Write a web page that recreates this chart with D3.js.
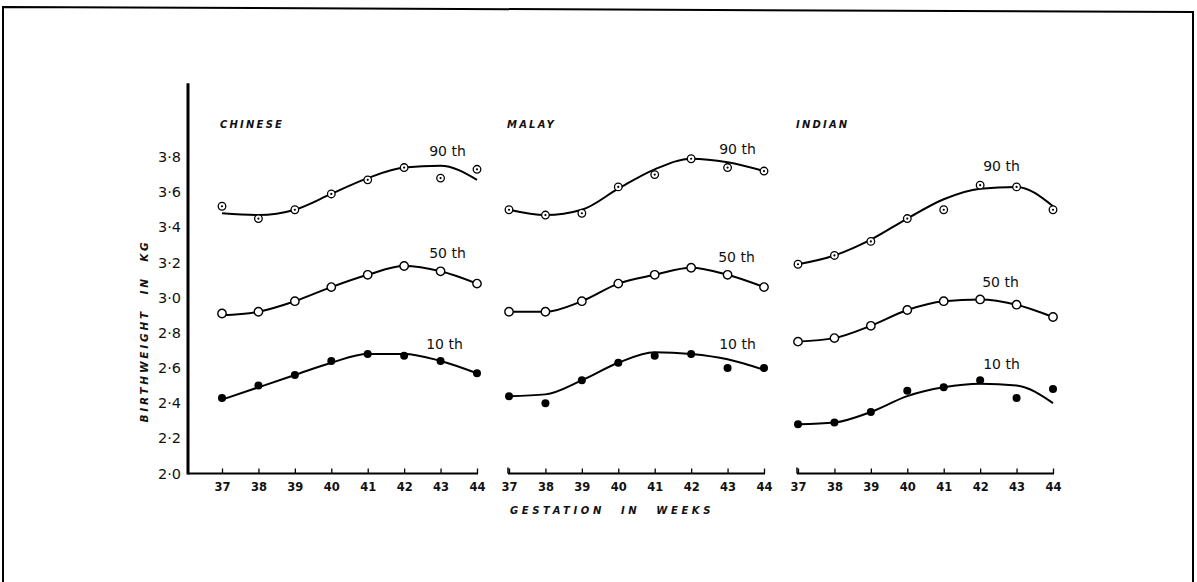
<!DOCTYPE html>
<html>
<head>
<meta charset="utf-8">
<script src="https://cdn.jsdelivr.net/npm/d3@7"></script>
<style>
  body { margin: 0; background: #fff; }
  svg { display: block; }
</style>
</head>
<body>
<div id="wrapper"></div>
<script>
// gestation weeks and y ticks
const weeks = [37, 38, 39, 40, 41, 42, 43, 44]
const yTicks = [2.0, 2.2, 2.4, 2.6, 2.8, 3.0, 3.2, 3.4, 3.6, 3.8]
const groups = ["CHINESE", "MALAY", "INDIAN"]
const pctLabels = ["90 th", "50 th", "10 th"]

// observed centiles (points) and fitted curves, kg
const chinese90 = [3.52, 3.45, 3.50, 3.59, 3.67, 3.74, 3.68, 3.73]
const chinese90Fit = [3.48, 3.47, 3.50, 3.59, 3.68, 3.74, 3.75, 3.67]
const chinese50 = [2.91, 2.92, 2.98, 3.06, 3.13, 3.18, 3.15, 3.08]
const chinese50Fit = [2.90, 2.92, 2.98, 3.06, 3.13, 3.18, 3.15, 3.08]
const chinese10 = [2.43, 2.50, 2.56, 2.64, 2.68, 2.67, 2.64, 2.57]
const chinese10Fit = [2.42, 2.49, 2.56, 2.63, 2.68, 2.68, 2.64, 2.57]

const malay90 = [3.50, 3.47, 3.48, 3.63, 3.70, 3.79, 3.74, 3.72]
const malay90Fit = [3.50, 3.47, 3.50, 3.62, 3.73, 3.79, 3.77, 3.72]
const malay50 = [2.92, 2.92, 2.98, 3.08, 3.13, 3.17, 3.13, 3.06]
const malay50Fit = [2.92, 2.92, 2.98, 3.08, 3.13, 3.17, 3.13, 3.06]
const malay10 = [2.44, 2.40, 2.53, 2.63, 2.67, 2.68, 2.60, 2.60]
const malay10Fit = [2.44, 2.45, 2.53, 2.63, 2.69, 2.68, 2.65, 2.59]

const indian90 = [3.19, 3.24, 3.32, 3.45, 3.50, 3.64, 3.63, 3.50]
const indian90Fit = [3.19, 3.24, 3.33, 3.45, 3.56, 3.62, 3.63, 3.52]
const indian50 = [2.75, 2.77, 2.84, 2.93, 2.98, 2.99, 2.96, 2.89]
const indian50Fit = [2.75, 2.77, 2.84, 2.93, 2.98, 2.99, 2.96, 2.89]
const indian10 = [2.28, 2.29, 2.35, 2.47, 2.49, 2.53, 2.43, 2.48]
const indian10Fit = [2.28, 2.29, 2.35, 2.44, 2.49, 2.51, 2.50, 2.40]

function drawChart() {
  const dim = { width: 1197, height: 582 }
  const font = "'DejaVu Sans', sans-serif"

  const svg = d3.select("#wrapper")
    .append("svg")
    .attr("width", dim.width)
    .attr("height", dim.height)

  // page frame (slightly skewed like the scan)
  svg.append("path")
    .attr("d", "M3,584 L3,7 L1193,12 L1193,584")
    .attr("fill", "none")
    .attr("stroke", "#000")
    .attr("stroke-width", 2)

  const y = d3.scaleLinear().domain([2.0, 3.8]).range([473.5, 157])
  const axisX = 188

  // y axis
  const yAxis = svg.append("g")
    .attr("transform", `translate(${axisX},0)`)
    .call(d3.axisLeft(y).tickValues(yTicks).tickSize(0).tickPadding(7)
      .tickFormat(d => d.toFixed(1).replace(".", "·")))
  yAxis.select(".domain").remove()
  yAxis.selectAll("text")
    .attr("font-family", font)
    .attr("font-size", 14.5)
    .attr("fill", "#111")

  svg.append("line")
    .attr("x1", axisX).attr("x2", axisX)
    .attr("y1", y(4.22)).attr("y2", y(2.0) + 1)
    .attr("stroke", "#000").attr("stroke-width", 3)

  svg.append("text")
    .attr("transform", `translate(148,331) rotate(-90)`)
    .attr("text-anchor", "middle")
    .attr("font-family", font)
    .attr("font-style", "italic")
    .attr("font-weight", "bold")
    .attr("font-size", 10.5)
    .attr("letter-spacing", 2.8)
    .attr("word-spacing", 8)
    .attr("fill", "#111")
    .text("BIRTHWEIGHT IN KG")

  const panelStart = [222, 509, 798]
  const span = 255
  const panels = [
    { pts: [chinese90, chinese50, chinese10], fit: [chinese90Fit, chinese50Fit, chinese10Fit], lab: [[25, 10], [25, 8], [22, 5]] },
    { pts: [malay90, malay50, malay10], fit: [malay90Fit, malay50Fit, malay10Fit], lab: [[28, 5], [27, 6], [28, 3]] },
    { pts: [indian90, indian50, indian10], fit: [indian90Fit, indian50Fit, indian10Fit], lab: [[3, 16], [2, 12], [3, 15]] },
  ]

  panels.forEach((p, i) => {
    const x = d3.scaleLinear().domain([37, 44]).range([panelStart[i], panelStart[i] + span])
    const g = svg.append("g")

    // x axis
    const xa = g.append("g")
      .attr("transform", `translate(0,${y(2.0)})`)
      .call(d3.axisBottom(x).tickValues(weeks).tickFormat(d3.format("d"))
        .tickSizeInner(-5).tickSizeOuter(0).tickPadding(9))
    xa.select(".domain").remove()
    xa.selectAll(".tick line").attr("stroke", "#000").attr("stroke-width", 1.3)
    xa.selectAll("text")
      .attr("font-family", font)
      .attr("font-size", 11.5)
      .attr("font-weight", "bold")
      .attr("fill", "#111")
    g.append("line")
      .attr("x1", i === 0 ? axisX : x(37) - 1).attr("x2", x(44) + 1)
      .attr("y1", y(2.0)).attr("y2", y(2.0))
      .attr("stroke", "#000").attr("stroke-width", 2.2)
    if (i > 0) {
      g.append("line")
        .attr("x1", x(37) - 1).attr("x2", x(37) - 1)
        .attr("y1", y(2.0) - 6).attr("y2", y(2.0))
        .attr("stroke", "#000").attr("stroke-width", 1.5)
    }

    // panel title
    g.append("text")
      .attr("x", x(37) - 2)
      .attr("y", 128)
      .attr("font-family", font)
      .attr("font-style", "italic")
      .attr("font-weight", "bold")
      .attr("font-size", 10)
      .attr("letter-spacing", 2.2)
      .attr("fill", "#111")
      .text(groups[i])

    const line = d3.line()
      .x((d, k) => x(weeks[k]))
      .y(d => y(d))
      .curve(d3.curveMonotoneX)

    p.fit.forEach((f, j) => {
      g.append("path")
        .datum(f)
        .attr("d", line)
        .attr("fill", "none")
        .attr("stroke", "#000")
        .attr("stroke-width", 2)

      const top = d3.max(f)
      g.append("text")
        .attr("x", x(42) + p.lab[j][0])
        .attr("y", y(top) - p.lab[j][1])
        .attr("font-family", font)
        .attr("font-size", 14)
        .attr("fill", "#111")
        .text(pctLabels[j])
    })

    // markers
    p.pts.forEach((vals, j) => {
      const dots = g.append("g").selectAll("g")
        .data(vals)
        .join("g")
        .attr("transform", (d, k) => `translate(${x(weeks[k])},${y(d)})`)
      if (j === 0) {
        dots.append("circle").attr("r", 3.8).attr("fill", "#fff").attr("stroke", "#000").attr("stroke-width", 1.3)
        dots.append("circle").attr("r", 1.1).attr("fill", "#000")
      } else if (j === 1) {
        dots.append("circle").attr("r", 4.2).attr("fill", "#fff").attr("stroke", "#000").attr("stroke-width", 1.4)
      } else {
        dots.append("circle").attr("r", 4).attr("fill", "#000")
      }
    })
  })

  svg.append("text")
    .attr("x", 612)
    .attr("y", 514)
    .attr("text-anchor", "middle")
    .attr("font-family", font)
    .attr("font-style", "italic")
    .attr("font-weight", "bold")
    .attr("font-size", 10)
    .attr("letter-spacing", 3.6)
    .attr("word-spacing", 9)
    .attr("fill", "#111")
    .text("GESTATION IN WEEKS")
}
drawChart()
</script>
</body>
</html>
